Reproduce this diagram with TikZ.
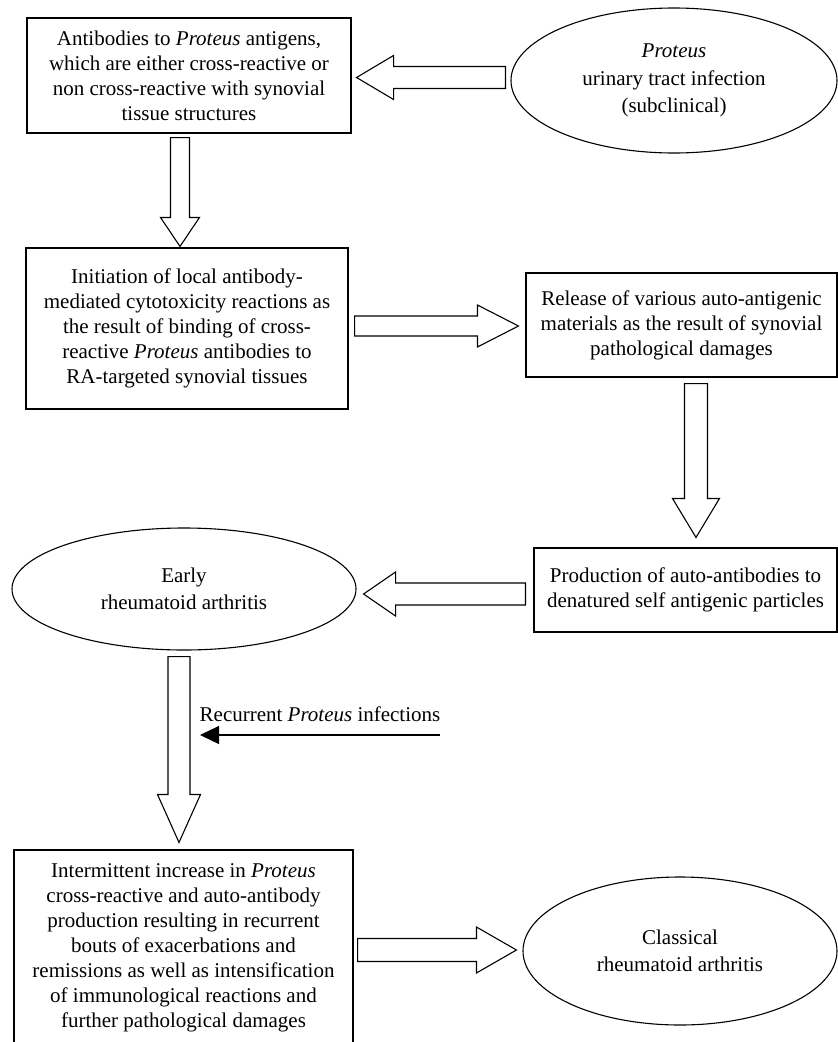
\documentclass[tikz,border=0pt]{standalone}
\usepackage{fontspec}
\setmainfont{Liberation Serif}
\usetikzlibrary{calc,shapes.geometric,arrows.meta}
% #1 start, #2 tip, #3 shaft half width, #4 head half width, #5 head length
\newcommand\blockarrow[5]{%
  \coordinate (bahead) at ($(#2)!#5!(#1)$);
  \draw[blk] ($(#1)!#3!90:(#2)$) -- ($(bahead)!#3!90:(#2)$) -- ($(bahead)!#4!90:(#2)$)
    -- (#2) -- ($(bahead)!#4!-90:(#2)$) -- ($(bahead)!#3!-90:(#2)$) -- ($(#1)!#3!-90:(#2)$) -- cycle;}
\begin{document}
\begin{tikzpicture}[x=1pt,y=-1pt,
  txt/.style={font=\fontsize{21}{25}\selectfont, align=center, inner sep=0pt},
  rbox/.style={txt, draw, line width=1.1pt},
  oval/.style={font=\fontsize{21}{27.5}\selectfont, align=center, draw, ellipse, inner sep=0pt, line width=1.1pt},
  blk/.style={draw, fill=white, line width=1.1pt, line join=miter},
  thinarrow/.style={line width=1.2pt, -{Triangle[length=19pt,width=18pt]}}]
\useasboundingbox (0,0) rectangle (838,1042);
\clip (0,0) rectangle (838,1042);

\node[rbox, minimum width=324pt, minimum height=115pt] (box1) at (189,75.5)
  {Antibodies to \textit{Proteus} antigens,\\ which are either cross-reactive or\\ non cross-reactive with synovial\\ tissue structures};
\node[oval, minimum width=326pt, minimum height=145pt] (inf) at (674,80.5)
  {\textit{Proteus}\\ urinary tract infection\\ (subclinical)};
\node[rbox, minimum width=322pt, minimum height=161pt] (box2) at (187,328.5)
  {Initiation of local antibody-\\ mediated cytotoxicity reactions as\\ the result of binding of cross-\\ reactive \textit{Proteus} antibodies to\\ RA-targeted synovial tissues};
\node[rbox, minimum width=311pt, minimum height=104pt] (box3) at (681.5,325)
  {Release of various auto-antigenic\\ materials as the result of synovial\\ pathological damages};
\node[rbox, minimum width=303pt, minimum height=84pt] (box4) at (685.5,590)
  {Production of auto-antibodies to\\ denatured self antigenic particles};
\node[oval, minimum width=344pt, minimum height=122pt] (ear) at (184,589)
  {Early\\ rheumatoid arthritis};
\node[rbox, minimum width=339pt, minimum height=196pt] (box5) at (183.5,948)
  {Intermittent increase in \textit{Proteus}\\ cross-reactive and auto-antibody\\ production resulting in recurrent\\ bouts of exacerbations and\\ remissions as well as intensification\\ of immunological reactions and\\ further pathological damages};
\node[oval, minimum width=314pt, minimum height=148pt] (cra) at (680,951)
  {Classical\\ rheumatoid arthritis};
\node[txt] (rec) at (320,714) {Recurrent \textit{Proteus} infections};

% A: infection -> box1
\coordinate (aS) at ($(inf.west)+(-5,-3)$);
\coordinate (aT) at ($(aS -| box1.east)+(5,0)$);
\blockarrow{aS}{aT}{11pt}{22pt}{37pt}
% B: box1 -> box2
\coordinate (bS) at ($(box1.south)+(-9,4)$);
\coordinate (bT) at ($(bS |- box2.north)+(0,-1)$);
\blockarrow{bS}{bT}{9.5pt}{19.5pt}{29pt}
% C: box2 -> box3
\coordinate (cS) at ($(box2.east)+(6,-2.5)$);
\coordinate (cT) at ($(cS -| box3.west)+(-7,0)$);
\blockarrow{cS}{cT}{10pt}{21pt}{41pt}
% D: box3 -> box4
\coordinate (dS) at ($(box3.south)+(14.5,6)$);
\coordinate (dT) at ($(dS |- box4.north)+(0,-10)$);
\blockarrow{dS}{dT}{11.5pt}{23.5pt}{39pt}
% E: box4 -> early RA
\coordinate (eS) at ($(box4.west)+(-8,4)$);
\coordinate (eT) at ($(eS -| ear.east)+(7,0)$);
\blockarrow{eS}{eT}{11pt}{22pt}{32pt}
% F: early RA -> box5
\coordinate (fS) at ($(ear.south)+(-5,6)$);
\coordinate (fT) at ($(fS |- box5.north)+(0,-7)$);
\blockarrow{fS}{fT}{11pt}{21.5pt}{48pt}
% G: recurrent infections
\coordinate (gS) at (440,735);
\coordinate (gT) at ($(fS |- gS)+(21,0)$);
\draw[thinarrow] (gS) -- (gT);
% H: box5 -> classical RA
\coordinate (hT) at ($(cra.west)+(-6,-1)$);
\coordinate (hS) at ($(hT -| box5.east)+(4,0)$);
\blockarrow{hS}{hT}{11.5pt}{23pt}{40pt}
\end{tikzpicture}
\end{document}
